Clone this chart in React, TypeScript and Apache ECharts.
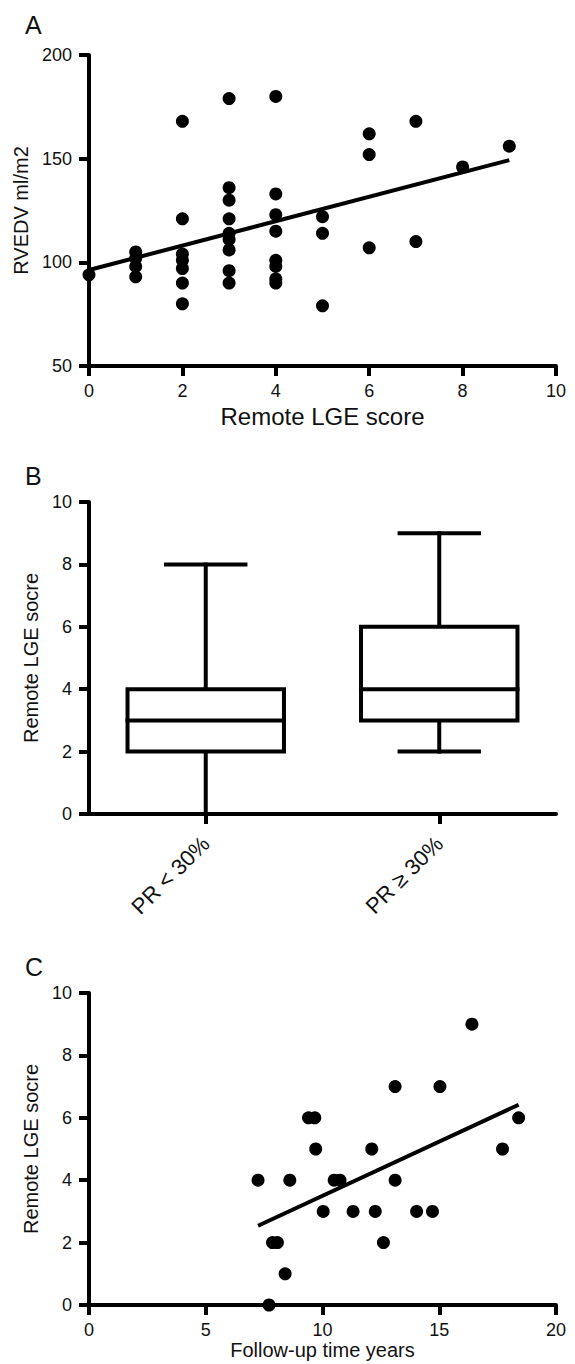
import React, { useEffect, useRef } from "react";
import * as echarts from "echarts";

// Panel A: Remote LGE score vs RVEDV
const aScore = [0, 1, 1, 1, 1, 2, 2, 2, 2, 2, 2, 2, 3, 3, 3, 3, 3, 3, 3, 3, 3, 4, 4, 4, 4, 4, 4, 4, 4, 5, 5, 5, 6, 6, 6, 7, 7, 8, 9];
const aRvedv = [94, 105, 102, 98, 93, 168, 121, 104, 101, 97, 90, 80, 179, 136, 130, 121, 114, 111, 106, 96, 90, 180, 133, 123, 115, 101, 98, 92, 90, 122, 114, 79, 162, 152, 107, 168, 110, 146, 156];
const aFitX = [0, 9];
const aFitY = [96.3, 149.3];
const aXTicks = { min: 0, max: 10, interval: 2 };
const aYTicks = { min: 50, max: 200, interval: 50 };

// Panel B: box plots
const bGroups = ["PR < 30%", "PR ≥ 30%"];
const bMin = [0, 2];
const bQ1 = [2, 3];
const bMedian = [3, 4];
const bQ3 = [4, 6];
const bMax = [8, 9];

// Panel C: follow-up time vs Remote LGE score
const cYears = [7.24, 7.71, 7.86, 8.07, 8.4, 8.6, 9.4, 9.67, 9.71, 10.03, 10.5, 10.75, 11.31, 12.11, 12.26, 12.61, 13.11, 13.11, 14.03, 14.71, 15.03, 16.4, 17.71, 18.4];
const cScore = [4, 0, 2, 2, 1, 4, 6, 6, 5, 3, 4, 4, 3, 5, 3, 2, 7, 4, 3, 3, 7, 9, 5, 6];
const cFitX = [7.24, 18.4];
const cFitY = [2.54, 6.42];

const FONT = '"Liberation Sans", Arial, Helvetica, sans-serif';
const INK = "#111";
const LW = 4;

function axisBase() {
  return {
    axisLine: { show: true, onZero: false, lineStyle: { color: "#000", width: LW } },
    axisTick: { show: true, length: 10, lineStyle: { color: "#000", width: LW } },
    splitLine: { show: false },
    axisLabel: { color: INK, fontSize: 18, fontFamily: FONT },
  };
}

function yAxis(gridIndex: number, t: { min: number; max: number; interval: number }, name: string) {
  const b = axisBase();
  return {
    ...b,
    type: "value",
    gridIndex,
    min: t.min,
    max: t.max,
    interval: t.interval,
    axisLabel: { ...b.axisLabel, margin: 17 },
    name,
    nameLocation: "middle",
    nameGap: 46,
    nameTextStyle: { color: INK, fontSize: 20, fontFamily: FONT },
  };
}

export default function App() {
  const ref = useRef<HTMLDivElement>(null);
  useEffect(() => {
    if (!ref.current) return;
    const chart = echarts.init(ref.current, null, { renderer: "svg" });
    const base = axisBase();
    const aPoints = aScore.map((x, i) => [x, aRvedv[i]]);
    const cPoints = cYears.map((x, i) => [x, cScore[i]]);
    const boxData = bGroups.map((_, i) => [i, bMin[i], bQ1[i], bMedian[i], bQ3[i], bMax[i]]);

    const option: any = {
      animation: false,
      backgroundColor: "#fff",
      grid: [
        { left: 89, top: 55, width: 467, height: 311 },
        { left: 89, top: 502, width: 467, height: 312 },
        { left: 89, top: 993, width: 467, height: 312 },
      ],
      xAxis: [
        {
          ...base,
          type: "value",
          gridIndex: 0,
          min: aXTicks.min,
          max: aXTicks.max,
          interval: aXTicks.interval,
          axisLabel: { ...base.axisLabel, margin: 16 },
          name: "Remote LGE score",
          nameLocation: "middle",
          nameGap: 38,
          nameTextStyle: { color: INK, fontSize: 24, fontFamily: FONT },
        },
        {
          ...base,
          type: "category",
          gridIndex: 1,
          data: bGroups,
          axisTick: { ...base.axisTick, alignWithLabel: true },
          axisLabel: { ...base.axisLabel, fontSize: 22, rotate: 45, margin: 26, interval: 0 },
        },
        {
          ...base,
          type: "value",
          gridIndex: 2,
          min: 0,
          max: 20,
          interval: 5,
          axisLabel: { ...base.axisLabel, margin: 16 },
          name: "Follow-up time years",
          nameLocation: "middle",
          nameGap: 34,
          nameTextStyle: { color: INK, fontSize: 20, fontFamily: FONT },
        },
      ],
      yAxis: [
        yAxis(0, aYTicks, "RVEDV ml/m2"),
        yAxis(1, { min: 0, max: 10, interval: 2 }, "Remote LGE socre"),
        yAxis(2, { min: 0, max: 10, interval: 2 }, "Remote LGE socre"),
      ],
      graphic: [
        { type: "text", left: 25, top: 12, style: { text: "A", font: `25px ${FONT}`, fill: INK } },
        { type: "text", left: 25, top: 463, style: { text: "B", font: `25px ${FONT}`, fill: INK } },
        { type: "text", left: 25, top: 954, style: { text: "C", font: `25px ${FONT}`, fill: INK } },
      ],
      series: [
        {
          type: "scatter",
          xAxisIndex: 0,
          yAxisIndex: 0,
          data: aPoints,
          symbolSize: 13,
          clip: false,
          itemStyle: { color: "#000", opacity: 1 },
        },
        {
          type: "line",
          xAxisIndex: 0,
          yAxisIndex: 0,
          data: aFitX.map((x, i) => [x, aFitY[i]]),
          symbol: "none",
          lineStyle: { color: "#000", width: 4 },
          z: 3,
        },
        {
          type: "custom",
          xAxisIndex: 1,
          yAxisIndex: 1,
          data: boxData,
          encode: { x: 0, y: [1, 2, 3, 4, 5] },
          renderItem: (params: any, api: any) => {
            const cat = api.value(0);
            const pMin = api.coord([cat, api.value(1)]);
            const pQ1 = api.coord([cat, api.value(2)]);
            const pMed = api.coord([cat, api.value(3)]);
            const pQ3 = api.coord([cat, api.value(4)]);
            const pMax = api.coord([cat, api.value(5)]);
            const band = api.size([1, 0])[0];
            const bw = band * 0.67;
            const cw = band * 0.34;
            const cx = pMin[0];
            const st = { stroke: "#000", lineWidth: LW, fill: "none", lineCap: "square" };
            return {
              type: "group",
              children: [
                { type: "line", shape: { x1: cx, y1: pQ3[1], x2: cx, y2: pMax[1] }, style: st },
                { type: "line", shape: { x1: cx, y1: pQ1[1], x2: cx, y2: pMin[1] }, style: st },
                { type: "line", shape: { x1: cx - cw / 2, y1: pMax[1], x2: cx + cw / 2, y2: pMax[1] }, style: st },
                { type: "line", shape: { x1: cx - cw / 2, y1: pMin[1], x2: cx + cw / 2, y2: pMin[1] }, style: st },
                {
                  type: "rect",
                  shape: { x: cx - bw / 2, y: pQ3[1], width: bw, height: pQ1[1] - pQ3[1] },
                  style: { stroke: "#000", lineWidth: LW, fill: "#fff" },
                },
                { type: "line", shape: { x1: cx - bw / 2, y1: pMed[1], x2: cx + bw / 2, y2: pMed[1] }, style: st },
              ],
            };
          },
          z: 3,
        },
        {
          type: "scatter",
          xAxisIndex: 2,
          yAxisIndex: 2,
          data: cPoints,
          symbolSize: 13,
          clip: false,
          itemStyle: { color: "#000", opacity: 1 },
        },
        {
          type: "line",
          xAxisIndex: 2,
          yAxisIndex: 2,
          data: cFitX.map((x, i) => [x, cFitY[i]]),
          symbol: "none",
          lineStyle: { color: "#000", width: 4 },
          z: 3,
        },
      ],
    };
    chart.setOption(option);
    return () => chart.dispose();
  }, []);
  return (
    <div
      ref={ref}
      style={{ position: "absolute", left: 0, top: 0, width: 575, height: 1364, background: "#fff" }}
    />
  );
}
